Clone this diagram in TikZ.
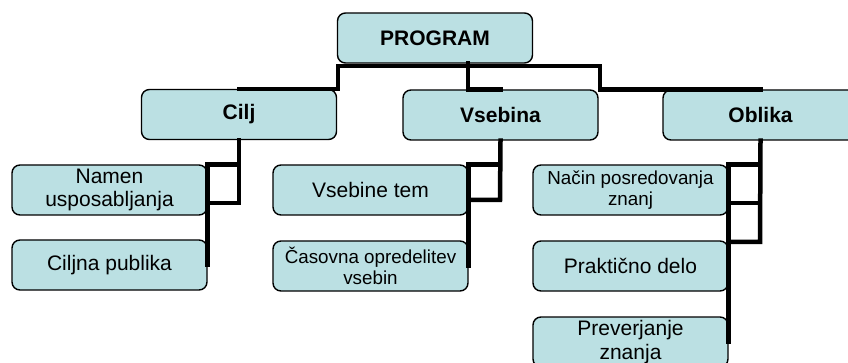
\documentclass[tikz,border=0pt]{standalone}
\usepackage{fontspec}
\setmainfont{Liberation Sans}
\usepackage{xcolor}
\definecolor{okvirmodra}{HTML}{BBE0E3}
\def\barvaokvir{okvirmodra}
\def\barvacrta{black}
\usetikzlibrary{calc}
\tikzset{
	okvir/.style={draw=\barvacrta,line width=1.4pt,rounded corners=8pt,fill=\barvaokvir,
		minimum width=195pt,minimum height=50pt,inner sep=2pt,align=center,
		font=\fontsize{21}{23.5}\selectfont},
	glavni/.style={okvir,font=\fontsize{21}{23.5}\selectfont\bfseries},
	manjsi/.style={okvir,font=\fontsize{18.8}{21}\selectfont},
	vez/.style={draw=\barvacrta,line width=4.5pt,line cap=rect}
}

\begin{document}
\begin{tikzpicture}[x=1pt,y=-1pt]
		\useasboundingbox (0,0) rectangle (848,363);
		% ravni
		\path (435,38) node [glavni] (prog) {PROGRAM};
		\path (239,114.5) node [glavni] (cilj) {Cilj}
		(500.5,115) node [glavni] (vseb) {Vsebina}
		(760.5,115) node [glavni] (obl) {Oblika};
		\path (109.5,190) node [okvir] (nam) {Namen\\usposabljanja}
		(109.5,265) node [okvir] (cpub) {Ciljna publika}
		(370.5,190) node [okvir] (tem) {Vsebine tem}
		(370.5,266) node [manjsi] (cas) {Časovna opredelitev\\vsebin}
		(630.5,190) node [manjsi] (nac) {Način posredovanja\\znanj}
		(630.5,266) node [okvir] (prak) {Praktično delo}
		(630.5,342) node [okvir] (prev) {Preverjanje\\znanja};
		
		\path (338,66) coordinate (pL)
		(600,66) coordinate (pR)
		(468,63) coordinate (pS)
		(239,203) coordinate (cS)
		(500,200) coordinate (vS)
		(760,242) coordinate (oS)
		(760,203) coordinate (oM);
		
		\draw[vez] (cilj.north) -- (cilj.north -| pL) -- (pL) -- (pR) -- (pR |- obl.north) -- (obl.north);
		\draw[vez] (pS) -- (pS |- vseb.north) -- (vseb.north);
		
		\draw[vez] (cilj.south) -- (cS) -- (cS -| nam.east);
		\draw[vez] (nam.north east) -- (nam.north east -| cS);
		\draw[vez] (nam.north east) -- ($(cpub.east)+(0,0)$);
		
		\draw[vez] (vseb.south) -- (vS) -- (vS -| tem.east);
		\draw[vez] (tem.north east) -- (tem.north east -| vS);
		\draw[vez] (tem.north east) -- (cas.east);
		
		\draw[vez] (obl.south) -- (oS) -- (oS -| nac.east);
		\draw[vez] (nac.north east) -- (nac.north east -| oS);
		\draw[vez] (oM) -- (oM -| nac.east);
		\draw[vez] (nac.north east) -- (prev.east);
	\end{tikzpicture}
\end{document}
